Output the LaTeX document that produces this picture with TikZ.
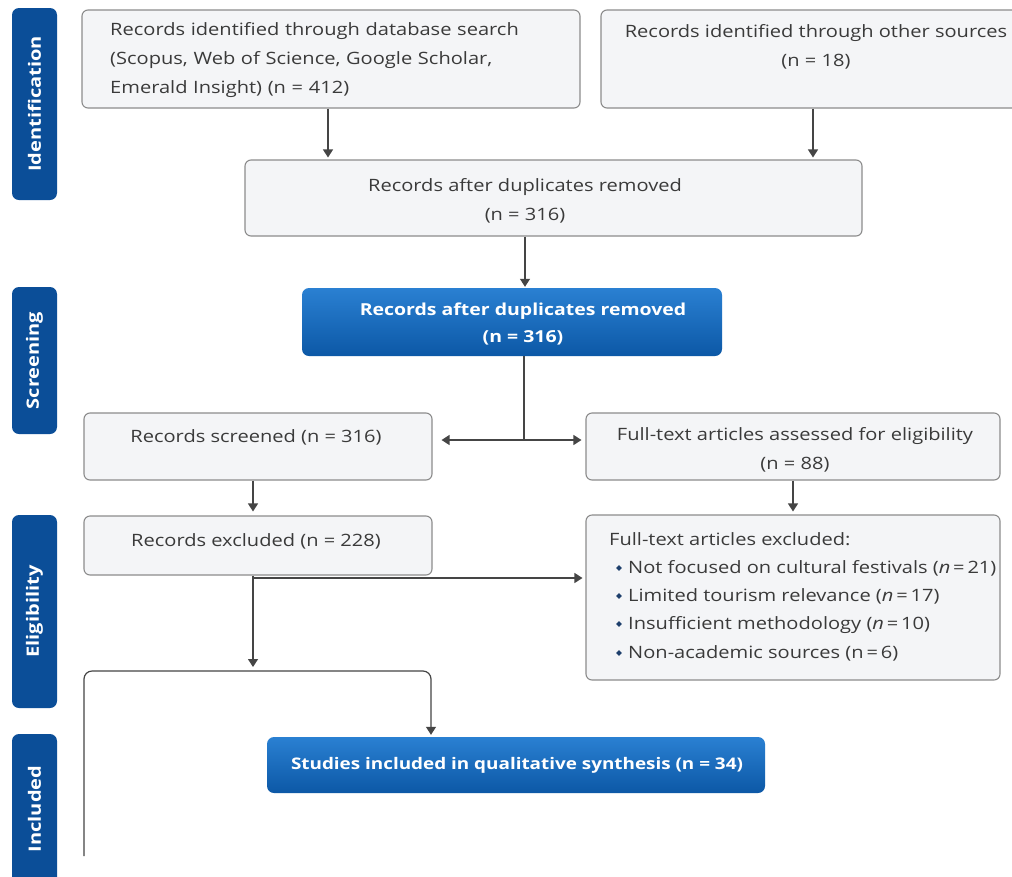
\documentclass[tikz,border=0pt]{standalone}
\usepackage{fontspec}
\setmainfont{Open Sans}[FakeStretch=1.18]
\usetikzlibrary{arrows.meta,shapes.geometric}
\definecolor{phaseblue}{HTML}{0B4E98}
\definecolor{blueTop}{HTML}{2A80D2}
\definecolor{blueBot}{HTML}{0C58A6}
\definecolor{boxline}{HTML}{8C8C8C}
\definecolor{boxfill}{HTML}{F4F5F7}
\definecolor{linegray}{HTML}{454545}
\definecolor{txtgray}{HTML}{3A3A3A}
\definecolor{bulletblue}{HTML}{1E3F6C}
\tikzset{
  phase/.style={fill=phaseblue, rounded corners=7pt, minimum height=45pt, inner sep=0pt,
    text=white, font=\fontsize{17}{20}\selectfont\bfseries, rotate=90},
  graybox/.style={draw=boxline, fill=boxfill, rounded corners=6pt, line width=1.1pt, inner sep=0pt},
  bluebox/.style={rounded corners=7pt, top color=blueTop, bottom color=blueBot, draw=none, inner sep=0pt},
  txt/.style={text=txtgray, align=center, inner sep=0pt},
  ltxt/.style={text=txtgray, align=left, inner sep=0pt},
  wtxt/.style={text=white, align=center, inner sep=0pt, font=\fontsize{16}{27}\selectfont\bfseries},
  conn/.style={draw=linegray, line width=1.2pt},
  arr/.style={conn, -{Triangle[width=10pt,length=8pt]}},
  bullet/.style={diamond, fill=bulletblue, inner sep=0pt, minimum size=6pt},
}
\begin{document}
\begin{tikzpicture}[x=1pt, y=-1pt, font=\fontsize{17}{29}\selectfont]
\useasboundingbox (0,0) rectangle (1012,876);
\clip (0,0) rectangle (1012,876);
\fill[white] (0,0) rectangle (1012,876);

% phase labels
\node[phase, minimum width=192pt] (pid) at (34.5,104) {Identification};
\node[phase, minimum width=147pt] (psc) at (34.5,360.5) {Screening};
\node[phase, minimum width=193pt] (pel) at (34.5,611.5) {Eligibility};
\node[phase, minimum width=150pt] (pin) at (34.5,809) {Included};

% identification
\node[graybox, minimum width=498pt, minimum height=98pt] (b1) at (331,59) {};
\node[ltxt, anchor=west, text width=460pt] (b1t) at (110,60)
  {Records identified through database search\\(Scopus, Web of Science, Google Scholar,\\Emerald Insight) (n = 412)};
\node[graybox, minimum width=430pt, minimum height=98pt] (b2) at (816,59) {};
\node[txt] (b2t) at (816,47) {Records identified through other sources\\(n = 18)};
\node[graybox, minimum width=617pt, minimum height=76pt] (b3) at (553.5,198) {};
\node[txt] (b3t) at (525,201) {Records after duplicates removed\\(n = 316)};

% screening
\node[bluebox, minimum width=420pt, minimum height=68pt] (bl) at (512,322) {};
\node[wtxt, font=\fontsize{16.5}{27}\selectfont\bfseries] (blt) at (523,324) {Records after duplicates removed\\(n = 316)};
\node[graybox, minimum width=348pt, minimum height=67pt] (scr) at (258,446.5) {};
\node[txt] (scrt) at (256,437) {Records screened (n = 316)};
\node[graybox, minimum width=414pt, minimum height=67pt] (ass) at (793,446.5) {};
\node[txt] (asst) at (795,449.5) {Full-text articles assessed for eligibility\\(n = 88)};

% eligibility
\node[graybox, minimum width=348pt, minimum height=59pt] (exc) at (258,545.5) {};
\node[txt] (exct) at (256,541) {Records excluded (n = 228)};
\node[graybox, minimum width=414pt, minimum height=165pt] (fte) at (793,597.5) {};
\node[ltxt, anchor=base west] (f0) at (609,545) {Full-text articles excluded:};
\node[ltxt, anchor=base west] (f1) at (628,573) {Not focused on cultural festivals (\textit{n}\,=\,21)};
\node[ltxt, anchor=base west] (f2) at (628,601) {Limited tourism relevance (\textit{n}\,=\,17)};
\node[ltxt, anchor=base west] (f3) at (628,629) {Insufficient methodology (\textit{n}\,=\,10)};
\node[ltxt, anchor=base west] (f4) at (628,658) {Non-academic sources (n\,=\,6)};
\node[bullet] (d1) at (619,568) {};
\node[bullet] (d2) at (619,596) {};
\node[bullet] (d3) at (619,624) {};
\node[bullet] (d4) at (619,653) {};

% included
\node[bluebox, minimum width=498pt, minimum height=56pt] (st) at (516,765) {};
\node[wtxt] (stt) at (517,765) {Studies included in qualitative synthesis (n = 34)};

% coordinates
\coordinate (x1) at (328,0);
\coordinate (x2) at (813,0);
\coordinate (x3) at (525,0);
\coordinate (sp) at (524,440);
\coordinate (ep) at (253,578);
\coordinate (fL) at (84,856);
\coordinate (fTL) at (84,671);
\coordinate (fTR) at (431,671);

% connectors
\draw[arr, shorten >=2pt] (b1.south -| x1) -- (b3.north -| x1);
\draw[arr, shorten >=2pt] (b2.south -| x2) -- (b3.north -| x2);
\draw[arr, shorten >=1pt] (b3.south -| x3) -- (bl.north -| x3);
\draw[conn] (bl.south -| sp) -- (sp);
\draw[arr, shorten >=9pt] (sp) -- (sp -| scr.east);
\draw[arr, shorten >=4pt] (sp) -- (sp -| ass.west);
\draw[arr, shorten >=4pt] (scr.south -| ep) -- (exc.north -| ep);
\draw[arr, shorten >=3pt] (ass.south) -- (fte.north);
\draw[conn] (exc.south -| ep) -- (ep);
\draw[arr, shorten >=3pt] (ep) -- (ep -| fte.west);
\draw[arr, shorten >=4pt] (ep) -- (ep |- fTL);
\draw[arr, rounded corners=8pt, shorten >=2pt] (fL) -- (fTL) -- (fTR) -- (fTR |- st.north);
\end{tikzpicture}
\end{document}
